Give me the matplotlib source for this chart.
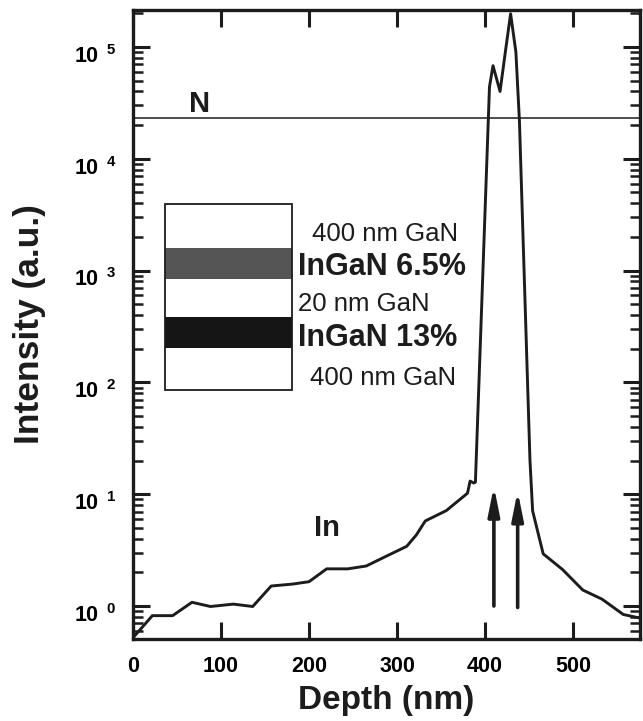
import numpy as np
import matplotlib
matplotlib.use("Agg")
import matplotlib.pyplot as plt
import matplotlib.transforms as mtransforms
from matplotlib.patches import Rectangle
from matplotlib.ticker import FixedLocator, FixedFormatter, LogLocator, NullFormatter

# In depth profile (nm, a.u.)
depth = [0, 22, 45, 67, 88, 114, 136, 157, 181, 200, 220, 244, 265, 289, 311,
         322, 332, 356, 380, 383, 387, 389, 405, 409, 417, 423, 429, 435, 439,
         451, 454, 466, 488, 511, 533, 557, 576]
intensity = [0.52, 0.82, 0.82, 1.08, 0.99, 1.04, 0.99, 1.51, 1.57, 1.65, 2.15,
             2.15, 2.28, 2.82, 3.42, 4.33, 5.76, 7.14, 10.2, 13.1, 12.6, 12.8,
             44000, 68000, 40000, 90000, 198000, 90000, 22000, 20, 7.1, 2.93,
             2.12, 1.39, 1.15, 0.84, 0.78]
n_level = 2.3e4                      # flat N signal
arrow_depths = [410, 437]            # marked InGaN layers
arrow_base = [1.0, 0.97]
arrow_tip = [11.8, 10.7]

xticks = [0, 100, 200, 300, 400, 500]
yticks = [1, 10, 100, 1e3, 1e4, 1e5]
ylabels = [r'$\mathbf{10^{\;\;%d}}$' % k for k in range(6)]

plt.rcParams['font.family'] = ['Liberation Sans', 'DejaVu Sans']
plt.rcParams['mathtext.fontset'] = 'custom'
plt.rcParams['mathtext.rm'] = 'Liberation Sans'
plt.rcParams['mathtext.bf'] = 'Liberation Sans:bold'

ink = '#1c1c1c'
W, H = 643, 721
fig = plt.figure(figsize=(W / 100, H / 100), dpi=100)
ax = fig.add_axes([133 / W, 1 - 639 / H, (640 - 133) / W, (639 - 10) / H])

ax.plot(depth, intensity, color=ink, lw=2.1, solid_joinstyle='round')
ax.axhline(n_level, color=ink, lw=1.1)

for xd, y0, y1 in zip(arrow_depths, arrow_base, arrow_tip):
    ax.annotate('', xy=(xd, y1), xytext=(xd, y0),
                arrowprops=dict(arrowstyle='-|>,head_length=0.85,head_width=0.17',
                                mutation_scale=20, lw=2.6, color=ink,
                                shrinkA=0, shrinkB=0))

ax.text(76, 3.1e4, 'N', fontsize=21, fontweight='bold', color=ink,
        ha='center', va='center')
ax.text(220, 5.0, 'In', fontsize=21, fontweight='bold', color=ink,
        ha='center', va='center')

ax.set_yscale('log')
ax.set_xlim(0, 576)
ax.set_ylim(0.507, 2.14e5)
ax.xaxis.set_major_locator(FixedLocator(xticks))
ax.set_xticklabels([str(t) for t in xticks])
ax.yaxis.set_major_locator(FixedLocator(yticks))
ax.yaxis.set_major_formatter(FixedFormatter(ylabels))
ax.yaxis.set_minor_locator(LogLocator(base=10, subs=np.arange(2, 10)))
ax.yaxis.set_minor_formatter(NullFormatter())

ax.tick_params(which='major', direction='in', length=12, width=2.2,
               top=True, right=True, color=ink)
ax.tick_params(which='minor', direction='in', length=7, width=1.8,
               right=True, color=ink)
ax.tick_params(axis='x', labelsize=15.5, pad=12)
ax.tick_params(axis='y', labelsize=15.5, pad=12)
for lab in ax.get_xticklabels():
    lab.set_fontweight('bold')
# "10^n" labels sit a little below their ticks
shift = mtransforms.ScaledTranslation(0, -5 / 72, fig.dpi_scale_trans)
for t in ax.yaxis.get_major_ticks(len(yticks)):
    t.label1.set_transform(t.label1.get_transform() + shift)
for sp in ax.spines.values():
    sp.set_linewidth(2.4)
    sp.set_color(ink)

ax.set_xlabel('Depth (nm)', fontsize=24, fontweight='bold', labelpad=6, color=ink)
ax.set_ylabel('Intensity (a.u.)', fontsize=25.5, fontweight='bold', labelpad=20, color=ink)

# layer sketch (figure pixel positions)
def fx(px):
    return px / W

def fy(py):
    return 1 - py / H

bx0, bx1 = 165, 292
bands = [(204, 248, 'white'), (248, 279, '#555555'), (279, 317, 'white'),
         (317, 348, '#151515'), (348, 390, 'white')]
for top, bot, col in bands:
    fig.patches.append(Rectangle((fx(bx0), fy(bot)), fx(bx1) - fx(bx0), fy(top) - fy(bot),
                                 transform=fig.transFigure, facecolor=col,
                                 edgecolor='none', zorder=3))
fig.patches.append(Rectangle((fx(bx0), fy(390)), fx(bx1) - fx(bx0), fy(204) - fy(390),
                             transform=fig.transFigure, facecolor='none',
                             edgecolor=ink, lw=1.3, zorder=4))

fig.text(fx(385), fy(234), '400 nm GaN', fontsize=18.5, color=ink, ha='center', va='center')
fig.text(fx(298), fy(267), 'InGaN 6.5%', fontsize=22, fontweight='bold', color=ink, ha='left', va='center')
fig.text(fx(298), fy(304), '20 nm GaN', fontsize=18.5, color=ink, ha='left', va='center')
fig.text(fx(298), fy(338), 'InGaN 13%', fontsize=22, fontweight='bold', color=ink, ha='left', va='center')
fig.text(fx(383), fy(378), '400 nm GaN', fontsize=18.5, color=ink, ha='center', va='center')

fig.savefig('out.png', dpi=100)
